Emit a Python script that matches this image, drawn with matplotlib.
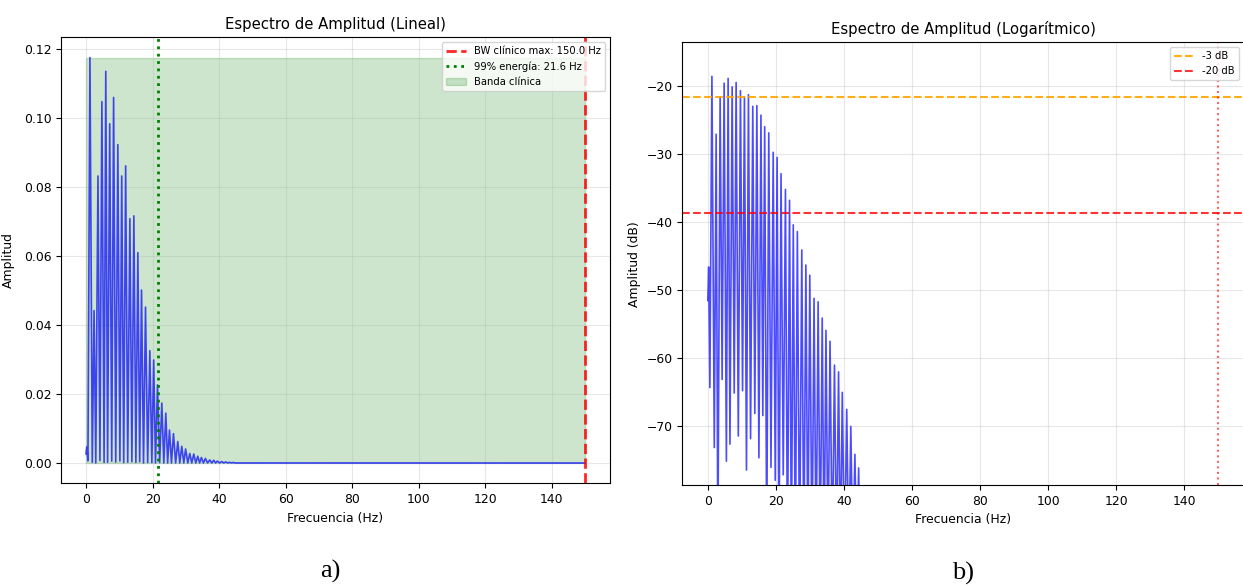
import numpy as np
import matplotlib
matplotlib.use("Agg")
import matplotlib.pyplot as plt

# ---------------- data ----------------
# low-frequency start of the spectrum (Hz, dB)
start_freq = [0.0, 0.25, 0.6]
start_db = [-51.5, -46.6, -64.3]

# harmonic peaks (Hz, dB)
peak_freq = [1.2, 2.44, 3.61, 4.79, 5.96, 7.14, 8.31, 9.58, 10.75, 11.93,
             13.2, 14.4, 15.6, 16.7, 17.9, 19.2, 20.35, 21.5, 22.8, 24.0,
             25.1, 26.3, 27.6, 28.8, 29.95, 31.2, 32.4, 33.6, 34.7, 35.9,
             37.2, 38.4, 39.5, 40.8, 42.0, 43.2, 44.3]
peak_db = [-18.6, -27.1, -21.6, -19.6, -18.9, -20.15, -19.5, -20.7, -21.6, -21.3,
           -23.0, -22.9, -24.3, -26.0, -26.9, -29.75, -30.5, -32.9, -35.2, -36.8,
           -40.4, -41.4, -44.1, -46.3, -47.8, -51.2, -51.7, -54.1, -55.9, -57.5,
           -61.0, -62.0, -65.0, -67.5, -70.0, -74.1, -76.1]

# troughs between peaks (Hz, dB); values under -78 are off the log axis
trough_freq = [1.9, 2.95, 4.2, 5.45, 6.5, 7.75, 8.95, 10.2, 11.35, 12.55,
               13.8, 15.0, 16.15, 17.3, 18.55, 19.8, 20.9, 22.15, 23.4, 24.55,
               25.7, 26.95, 28.2, 29.4, 30.6, 31.8, 33.0, 34.15, 35.3, 36.55,
               37.8, 38.95, 40.15, 41.4, 42.6, 43.75, 44.9]
trough_db = [-73.1, -88.0, -63.1, -75.1, -72.6, -65.1, -71.4, -64.75, -76.4, -71.8,
             -68.1, -74.6, -68.4, -88.0, -76.0, -77.9, -90.0, -77.1, -90.0, -90.0,
             -90.0, -90.0, -90.0, -90.0, -90.0, -90.0, -90.0, -90.0, -90.0, -90.0,
             -90.0, -90.0, -90.0, -90.0, -90.0, -90.0, -95.0]

# flat tail up to the clinical band limit
tail_freq = [150.0]
tail_db = [-120.0]

bw_clinical_hz = 150.0
energy99_hz = 21.6

# ---------------- assemble spectrum ----------------
freq = np.array(start_freq + peak_freq + trough_freq + tail_freq)
amp_db = np.array(start_db + peak_db + trough_db + tail_db)
order = np.argsort(freq)
freq = freq[order]
amp_db = amp_db[order]
amp = 10 ** (amp_db / 20.0)

# ---------------- figure ----------------
plt.rcParams['font.family'] = ['DejaVu Sans']
plt.rcParams['font.size'] = 8.9
plt.rcParams['axes.titlesize'] = 10.7
plt.rcParams['axes.labelsize'] = 8.9
plt.rcParams['xtick.labelsize'] = 8.9
plt.rcParams['ytick.labelsize'] = 8.9
plt.rcParams['legend.fontsize'] = 7.2

W, H = 1243, 586
fig = plt.figure(figsize=(W / 100, H / 100), dpi=100)

def px_axes(x0, y0, x1, y1):
    return fig.add_axes([x0 / W, 1 - y1 / H, (x1 - x0) / W, (y1 - y0) / H])

# ----- a) linear -----
ax1 = px_axes(61, 37.3, 610, 483.3)
ax1.plot(freq, amp, color='blue', linewidth=1.2, alpha=0.7)
ax1.axvline(bw_clinical_hz, color='red', linestyle='--', linewidth=2,
            alpha=0.85, label=f'BW clínico max: {bw_clinical_hz:.1f} Hz')
ax1.axvline(energy99_hz, color='green', linestyle=':', linewidth=2,
            label=f'99% energía: {energy99_hz:.1f} Hz')
ax1.fill_between(freq, 0, amp.max(), where=freq <= bw_clinical_hz,
                 color='green', alpha=0.2, label='Banda clínica')
ax1.set_xlim(-7.5, 157.5)
ax1.set_ylim(-0.05 * amp.max(), 1.05 * amp.max())
ax1.set_title('Espectro de Amplitud (Lineal)')
ax1.set_xlabel('Frecuencia (Hz)')
ax1.set_ylabel('Amplitud', labelpad=6)
ax1.grid(True, alpha=0.3)
ax1.legend(loc='upper right')

# ----- b) logarithmic -----
ax2 = px_axes(682.3, 42.3, 1244, 485)
ax2.plot(freq, amp_db, color='blue', linewidth=1.2, alpha=0.7)
max_db = amp_db.max()
ax2.axhline(max_db - 3, color='orange', linestyle='--', linewidth=1.5,
            alpha=0.9, label='-3 dB')
ax2.axhline(max_db - 20, color='red', linestyle='--', linewidth=1.5,
            alpha=0.8, label='-20 dB')
ax2.axvline(bw_clinical_hz, color='red', linestyle=':', linewidth=1.5, alpha=0.6)
ax2.set_xlim(-7.5, 157.5)
ax2.set_ylim(max_db - 60, max_db + 5)
ax2.set_title('Espectro de Amplitud (Logarítmico)')
ax2.set_xlabel('Frecuencia (Hz)')
ax2.set_ylabel('Amplitud (dB)')
ax2.grid(True, alpha=0.3)
ax2.legend(loc='upper right')

# panel labels
fig.text(330 / W, 1 - 571 / H, 'a)', ha='center', va='center',
         fontsize=19, family=['Liberation Serif', 'DejaVu Serif'])
fig.text(963 / W, 1 - 573 / H, 'b)', ha='center', va='center',
         fontsize=19, family=['Liberation Serif', 'DejaVu Serif'])

fig.savefig('out.png', dpi=100)
